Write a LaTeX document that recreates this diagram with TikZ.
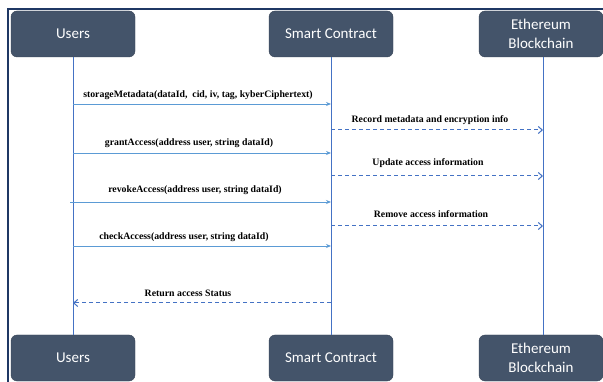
\documentclass[tikz,border=0pt]{standalone}
\usepackage{fontspec}
\setmainfont{Liberation Serif}
\newfontfamily\boxfont{Carlito}
\usetikzlibrary{arrows.meta}
\definecolor{boxfill}{HTML}{44546A}
\definecolor{framec}{HTML}{1F3864}
\definecolor{lifec}{HTML}{4472C4}
\definecolor{solidc}{HTML}{5B9BD5}
\definecolor{dashc}{HTML}{4472C4}
\tikzset{
  actor/.style={draw=boxfill!80!black, line width=0.4pt, fill=boxfill, rounded corners=6pt,
    minimum width=124pt, minimum height=46pt, inner sep=0pt, text=white,
    font=\boxfont\fontsize{15}{19}\selectfont, align=center},
  lifeline/.style={draw=lifec, line width=0.9pt},
  callmsg/.style={draw=solidc, line width=0.9pt, -{Stealth[length=5pt,width=4pt]}},
  retmsg/.style={draw=dashc, line width=1pt, dash pattern=on 4pt off 3pt, -{Straight Barb[length=4pt,width=7pt]}},
  msglabel/.style={font=\bfseries\fontsize{9.8}{11}\selectfont, inner sep=0pt, text=black},
}
\begin{document}
\begin{tikzpicture}[x=1pt,y=-1pt]
\useasboundingbox (0,0) rectangle (603,382);
\fill[white] (0,0) rectangle (603,382);
\draw[framec, line width=1.4pt] (8,382) -- (8,9) -- (603,9);
% actors
\node[actor] (U1) at (73,34) {Users};
\node[actor] (S1) at (331,34) {Smart Contract};
\node[actor] (E1) at (541,34) {Ethereum\\Blockchain};
\node[actor] (U2) at (73,358) {Users};
\node[actor] (S2) at (331,358) {Smart Contract};
\node[actor] (E2) at (541,358) {Ethereum\\Blockchain};
% lifelines
\draw[lifeline] (U1.south) -- (U2.north);
\draw[lifeline] (S1.south) -- (S2.north);
\draw[lifeline] ([xshift=2pt]E1.south) -- ([xshift=2pt]E2.north);
% anchor points on lifelines
\coordinate (ua) at (73,104);  \coordinate (sa) at (331,104);
\coordinate (sb) at (331,130); \coordinate (eb) at (543,130);
\coordinate (uc) at (73,153);  \coordinate (sc) at (331,153);
\coordinate (sd) at (331,176); \coordinate (ed) at (543,176);
\coordinate (ue) at (70,202);  \coordinate (se) at (331,202);
\coordinate (sf) at (331,226); \coordinate (ef) at (543,226);
\coordinate (ug) at (73,246);  \coordinate (sg) at (331,246);
\coordinate (sh) at (331,303); \coordinate (uh) at (73,303);
% messages
\draw[callmsg] (ua) -- (sa);
\node[msglabel] (la) at (198,95) {storageMetadata(dataId,\ \ cid, iv, tag, kyberCiphertext)};
\draw[retmsg] (sb) -- (eb);
\node[msglabel] (lb) at (430,120) {Record metadata and encryption info};
\draw[callmsg] (uc) -- (sc);
\node[msglabel] (lc) at (189,143) {grantAccess(address user, string dataId)};
\draw[retmsg] (sd) -- (ed);
\node[msglabel] (ld) at (428,163) {Update access information};
\draw[callmsg] (ue) -- (se);
\node[msglabel] (le) at (195,190) {revokeAccess(address user, string dataId)};
\draw[retmsg] (sf) -- (ef);
\node[msglabel] (lf) at (431,214) {Remove access information};
\draw[callmsg] (ug) -- (sg);
\node[msglabel] (lg) at (184,237) {checkAccess(address user, string dataId)};
\draw[retmsg] (sh) -- (uh);
\node[msglabel] (lh) at (188,293) {Return access Status};
\end{tikzpicture}
\end{document}
